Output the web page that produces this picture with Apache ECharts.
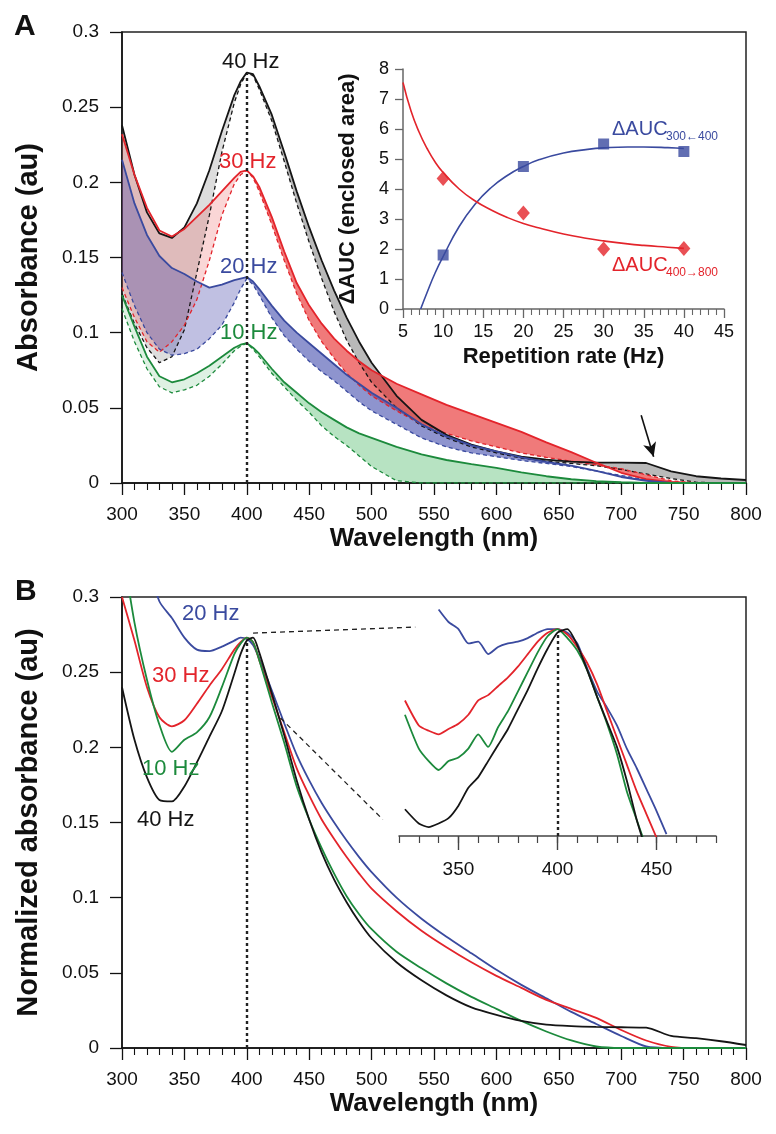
<!DOCTYPE html>
<html><head><meta charset="utf-8">
<script src="https://cdn.jsdelivr.net/npm/echarts/dist/echarts.min.js"></script>
<style>html,body{margin:0;padding:0;background:#fff}#c{width:776px;height:1134px}</style>
</head><body><div id="c"></div>
<script>
// ---------- data ----------
const wavelength = [300,310,320,330,340,350,360,370,380,390,395,400,405,410,420,430,440,450,460,470,480,490,500,520,540,560,580,600,620,640,660,680,700,720,740,760,780,800];
// Panel A: measured (solid) and reference (dashed) spectra
const absA40    = [0.238,0.205,0.180,0.166,0.163,0.170,0.186,0.208,0.234,0.258,0.267,0.273,0.272,0.264,0.245,0.220,0.194,0.170,0.148,0.128,0.110,0.094,0.080,0.058,0.042,0.032,0.0255,0.021,0.0175,0.0155,0.0142,0.0136,0.0136,0.0133,0.0078,0.0045,0.003,0.002];
const absA40ref = [0.126,0.106,0.090,0.080,0.084,0.102,0.140,0.178,0.220,0.253,0.265,0.273,0.271,0.262,0.241,0.214,0.186,0.160,0.136,0.114,0.095,0.080,0.067,0.050,0.038,0.030,0.024,0.020,0.0165,0.0145,0.013,0.0115,0.009,0.006,0.003,0.0005,0,0];
const absA30    = [0.232,0.205,0.183,0.168,0.164,0.169,0.177,0.185,0.194,0.203,0.207,0.208,0.204,0.197,0.177,0.154,0.133,0.118,0.106,0.096,0.088,0.081,0.075,0.066,0.059,0.052,0.046,0.040,0.034,0.027,0.0205,0.0135,0.0068,0.0025,0.0005,0,0,0];
const absA30ref = [0.130,0.110,0.094,0.087,0.094,0.105,0.122,0.148,0.178,0.199,0.205,0.208,0.203,0.194,0.172,0.148,0.126,0.108,0.094,0.083,0.073,0.065,0.058,0.048,0.039,0.033,0.028,0.024,0.020,0.017,0.0145,0.012,0.0095,0.0055,0.0015,0,0,0];
const absA20    = [0.215,0.186,0.165,0.151,0.143,0.139,0.134,0.130,0.132,0.135,0.136,0.137,0.134,0.129,0.118,0.108,0.100,0.093,0.086,0.079,0.072,0.066,0.060,0.050,0.039,0.031,0.025,0.021,0.017,0.014,0.0115,0.008,0.004,0.0015,0,0,0,0];
const absA20ref = [0.140,0.118,0.100,0.089,0.085,0.086,0.089,0.096,0.105,0.120,0.129,0.136,0.132,0.125,0.110,0.098,0.089,0.081,0.074,0.068,0.061,0.054,0.048,0.039,0.030,0.024,0.020,0.0175,0.015,0.013,0.011,0.008,0.005,0.002,0.0005,0,0,0];
const absA10    = [0.125,0.104,0.084,0.071,0.067,0.069,0.073,0.078,0.084,0.090,0.092,0.093,0.090,0.086,0.076,0.067,0.060,0.053,0.047,0.042,0.037,0.033,0.030,0.024,0.019,0.0153,0.0125,0.010,0.007,0.0045,0.0025,0.0012,0.0005,0,0,0,0,0];
const absA10ref = [0.116,0.094,0.076,0.064,0.060,0.062,0.065,0.071,0.079,0.088,0.091,0.093,0.089,0.084,0.073,0.064,0.055,0.047,0.038,0.031,0.025,0.018,0.011,0.0015,0,0,0,0,0,0,0,0,0,0,0,0,0,0];
// Panel A inset: enclosed areas vs repetition rate
const repRate = [10,20,30,40];
const aucLeft  = [1.8,4.75,5.5,5.25];   // ΔAUC 300←400
const aucRight = [4.35,3.2,2.0,2.02];   // ΔAUC 400→800
const fitLeftX  = [7.2,8,9,10,12,14,16,18,20,22,25,28,30,33,35,38,40];
const fitLeftY  = [0,0.55,1.2,1.75,2.75,3.5,4.05,4.45,4.75,4.98,5.2,5.32,5.37,5.4,5.4,5.38,5.35];
const fitRightX = [5,6,7,8,9,10,12,14,16,18,20,22,25,28,30,33,35,38,40];
const fitRightY = [7.55,6.6,5.9,5.35,4.9,4.55,4.0,3.6,3.3,3.05,2.85,2.7,2.5,2.35,2.27,2.17,2.12,2.06,2.02];
// Panel B: normalized spectra
const normB40 = [0.240,0.205,0.180,0.165,0.164,0.174,0.190,0.207,0.224,0.249,0.262,0.271,0.273,0.263,0.236,0.208,0.178,0.152,0.130,0.112,0.097,0.084,0.073,0.057,0.045,0.035,0.027,0.022,0.018,0.0155,0.0145,0.014,0.0138,0.0135,0.008,0.0065,0.0045,0.002];
const normB30 = [0.300,0.271,0.240,0.220,0.214,0.218,0.229,0.241,0.252,0.265,0.270,0.273,0.270,0.258,0.234,0.210,0.186,0.168,0.152,0.139,0.127,0.116,0.106,0.091,0.078,0.067,0.057,0.048,0.040,0.032,0.026,0.020,0.012,0.005,0.0008,0,0,0];
const normB20 = [0.400,0.360,0.325,0.297,0.286,0.273,0.265,0.264,0.267,0.271,0.273,0.272,0.268,0.259,0.238,0.216,0.195,0.178,0.163,0.150,0.138,0.127,0.117,0.100,0.086,0.074,0.063,0.052,0.042,0.033,0.024,0.016,0.008,0.001,0,0,0,0];
const normB10 = [0.335,0.283,0.245,0.215,0.197,0.205,0.210,0.220,0.240,0.262,0.269,0.273,0.270,0.258,0.230,0.203,0.174,0.152,0.133,0.116,0.101,0.089,0.079,0.064,0.053,0.043,0.034,0.026,0.018,0.011,0.005,0.001,0,0,0,0,0,0];
// Panel B inset (zoom 320–480 nm)
const insetWl = [323,330,335,340,345,350,355,360,365,370,375,380,385,390,395,400,405,410,415,420,425,430,435,440,445,450,455];
const inset40 = [0.172,0.164,0.162,0.164,0.167,0.174,0.184,0.190,0.199,0.208,0.217,0.228,0.239,0.251,0.262,0.271,0.273,0.264,0.250,0.235,0.221,0.207,0.188,0.166,0.148,null,null];
const inset10 = [0.225,0.206,0.199,0.194,0.199,0.201,0.206,0.214,0.207,0.218,0.227,0.238,0.249,0.260,0.269,0.273,0.268,0.261,0.250,0.235,0.220,0.203,0.182,0.166,0.150,null,null];
const inset30 = [0.233,0.219,0.216,0.214,0.217,0.220,0.225,0.233,0.236,0.241,0.246,0.252,0.259,0.266,0.271,0.273,0.270,0.263,0.254,0.242,0.227,0.212,0.197,0.182,0.169,0.156,null];
const inset20 = [null,null,null,0.284,0.277,0.273,0.265,0.266,0.259,0.263,0.265,0.266,0.268,0.271,0.273,0.273,0.271,0.265,0.251,0.238,0.229,0.219,0.206,0.195,0.183,0.171,0.158];
// annotation guides
const zoomGuideUpper = [[405,0.276],[535,0.280]];
const zoomGuideLower = [[427,0.2195],[509,0.152]];
const arrowFrom = [716,0.045], arrowTo = [726,0.0175];
const yTicks = [0,0.05,0.1,0.15,0.2,0.25,0.3];

// ---------- chart ----------
const BLACK='#151515', RED='#e3242b', BLUE='#3a4a9f', GREEN='#1c8a3c';
const FONT='Liberation Sans';
const SMB = 0.25;
const pairs = (xs, ys) => xs.map((x,i)=>[x, ys[i]]);

// filled band between measured and reference curve, drawn through the axes' scales
function band(solid, ref, color, fromW, toW) {
  return {
    type:'custom', xAxisIndex:0, yAxisIndex:0, silent:true, z:1, clip:true,
    data:[[fromW, 0]],
    renderItem:(params, api) => {
      if (params.dataIndex !== 0) return;
      const idx = [];
      wavelength.forEach((w,i)=>{ if (w>=fromW && w<=toW) idx.push(i); });
      const top = idx.map(i=>api.coord([wavelength[i], solid[i]]));
      const bot = idx.slice().reverse().map(i=>api.coord([wavelength[i], ref[i]]));
      return {type:'polygon', shape:{points: top.concat(bot)}, style:{fill:color, stroke:null}};
    }
  };
}
function rateSeries(solid, ref, color, fillL, fillR, extra) {
  return [
    band(solid, ref, fillL, 300, 400),
    band(solid, ref, fillR, 400, 800),
    {type:'line', xAxisIndex:0, yAxisIndex:0, symbol:'none', smooth:false, silent:true,
      data:pairs(wavelength, ref), lineStyle:{color:color, width:1.3, type:[4,3]}, z:3},
    Object.assign({type:'line', xAxisIndex:0, yAxisIndex:0, symbol:'none', smooth:false, silent:true,
      data:pairs(wavelength, solid), lineStyle:{color:color, width:1.8}, z:4}, extra||{})
  ];
}

const mainX = (grid) => ({
  type:'value', gridIndex:grid, min:300, max:800, interval:50,
  axisLine:{show:true, lineStyle:{color:'#111', width:1.5}},
  axisTick:{show:true, length:12, lineStyle:{color:'#111', width:1.3}},
  minorTick:{show:true, splitNumber:5, length:7, lineStyle:{color:'#111', width:1.1}},
  axisLabel:{fontSize:19, color:'#111', margin:22, fontFamily:FONT},
  splitLine:{show:false},
  name:'Wavelength (nm)', nameLocation:'middle', nameGap:43,
  nameTextStyle:{fontSize:26, fontWeight:'bold', color:'#111', fontFamily:FONT}
});
const mainY = (grid, name) => ({
  type:'value', gridIndex:grid, min:0, max:0.3, interval:0.05,
  axisLine:{show:true, lineStyle:{color:'#111', width:1.5}},
  axisTick:{show:true, length:12, lineStyle:{color:'#111', width:1.3}},
  axisLabel:{fontSize:19, color:'#111', margin:23, fontFamily:FONT,
    formatter: v => String(yTicks.reduce((a,b)=>Math.abs(b-v)<Math.abs(a-v)?b:a))},
  splitLine:{show:false},
  name:name, nameLocation:'middle', nameGap:79, nameRotate:90,
  nameTextStyle:{fontSize:29, fontWeight:'bold', color:'#111', fontFamily:FONT}
});

const dotted = (y0, y1) => ({silent:true, symbol:'none', label:{show:false},
  lineStyle:{type:[3,3], color:'#222', width:2.4},
  data:[[{coord:[400,y0]},{coord:[400,y1]}]]});

const series = [].concat(
  rateSeries(absA40, absA40ref, BLACK, 'rgba(120,120,120,0.25)', 'rgba(100,100,100,0.45)', {
    markLine:{silent:true, symbol:['none','arrow'], symbolSize:[10,14], label:{show:false},
      lineStyle:{type:'solid', color:'#111', width:1.6},
      data:[[{coord:arrowFrom},{coord:arrowTo}]]}
  }),
  rateSeries(absA30, absA30ref, RED, 'rgba(230,50,50,0.2)', 'rgba(230,40,40,0.62)'),
  rateSeries(absA20, absA20ref, BLUE, 'rgba(60,60,165,0.32)', 'rgba(60,70,170,0.58)'),
  rateSeries(absA10, absA10ref, GREEN, 'rgba(50,170,80,0.16)', 'rgba(50,175,80,0.35)', {
    markLine: dotted(0, 0.272)
  }),
  [
    // Panel A inset
    {type:'line', xAxisIndex:1, yAxisIndex:1, data:pairs(fitLeftX, fitLeftY), smooth:true, symbol:'none', lineStyle:{color:BLUE, width:1.6}, silent:true},
    {type:'line', xAxisIndex:1, yAxisIndex:1, data:pairs(fitRightX, fitRightY), smooth:true, symbol:'none', lineStyle:{color:RED, width:1.6}, silent:true},
    {type:'scatter', xAxisIndex:1, yAxisIndex:1, data:pairs(repRate, aucLeft), symbol:'rect', symbolSize:11, itemStyle:{color:BLUE}, silent:true, z:5},
    {type:'scatter', xAxisIndex:1, yAxisIndex:1, data:pairs(repRate, aucRight), symbol:'diamond', symbolSize:[13,15], itemStyle:{color:RED}, silent:true, z:5},
    // Panel B main
    {type:'line', xAxisIndex:2, yAxisIndex:2, data:pairs(wavelength, normB20), smooth:SMB, symbol:'none', lineStyle:{color:BLUE, width:1.8}, silent:true},
    {type:'line', xAxisIndex:2, yAxisIndex:2, data:pairs(wavelength, normB30), smooth:SMB, symbol:'none', lineStyle:{color:RED, width:1.8}, silent:true},
    {type:'line', xAxisIndex:2, yAxisIndex:2, data:pairs(wavelength, normB10), smooth:SMB, symbol:'none', lineStyle:{color:GREEN, width:1.8}, silent:true},
    {type:'line', xAxisIndex:2, yAxisIndex:2, data:pairs(wavelength, normB40), smooth:SMB, symbol:'none', lineStyle:{color:BLACK, width:1.8}, silent:true,
      markLine: dotted(0, 0.271)},
    {type:'line', xAxisIndex:2, yAxisIndex:2, data:zoomGuideUpper, symbol:'none', lineStyle:{color:'#222', width:1.3, type:[5,4]}, silent:true},
    {type:'line', xAxisIndex:2, yAxisIndex:2, data:zoomGuideLower, symbol:'none', lineStyle:{color:'#222', width:1.3, type:[5,4]}, silent:true},
    // Panel B inset
    {type:'line', xAxisIndex:3, yAxisIndex:3, data:pairs(insetWl, inset20), smooth:0.2, symbol:'none', lineStyle:{color:BLUE, width:1.8}, silent:true},
    {type:'line', xAxisIndex:3, yAxisIndex:3, data:pairs(insetWl, inset30), smooth:0.2, symbol:'none', lineStyle:{color:RED, width:1.8}, silent:true},
    {type:'line', xAxisIndex:3, yAxisIndex:3, data:pairs(insetWl, inset10), smooth:0.2, symbol:'none', lineStyle:{color:GREEN, width:1.8}, silent:true},
    {type:'line', xAxisIndex:3, yAxisIndex:3, data:pairs(insetWl, inset40), smooth:0.2, symbol:'none', lineStyle:{color:BLACK, width:1.8}, silent:true,
      markLine: dotted(0.157, 0.271)}
  ]
);

const txt = (text, left, top, color, size, extra) => Object.assign({
  text:text, left:left, top:top, padding:0, textAlign:'left',
  textStyle:{color:color, fontSize:size, fontWeight:'normal', fontFamily:FONT}
}, extra||{});

const option = {
  animation:false,
  textStyle:{fontFamily:FONT},
  title:[
    txt('A', 14, 12, '#111', 30, {textStyle:{color:'#111', fontSize:30, fontWeight:'bold', fontFamily:FONT}}),
    txt('B', 15, 577, '#111', 30, {textStyle:{color:'#111', fontSize:30, fontWeight:'bold', fontFamily:FONT}}),
    txt('40 Hz', 222, 51, BLACK, 22),
    txt('30 Hz', 219, 151, RED, 22),
    txt('20 Hz', 220, 256, BLUE, 22),
    txt('10 Hz', 220, 322, GREEN, 22),
    txt('ΔAUC', 612, 119, BLUE, 20),
    txt('300←400', 666, 131, BLUE, 12),
    txt('ΔAUC', 612, 255, RED, 20),
    txt('400→800', 666, 267, RED, 12),
    txt('20 Hz', 182, 603, BLUE, 22),
    txt('30 Hz', 152, 665, RED, 22),
    txt('10 Hz', 142, 758, GREEN, 22),
    txt('40 Hz', 137, 809, BLACK, 22)
  ],
  grid:[
    {left:122, top:32, width:624, height:451, show:true, borderColor:'#222', borderWidth:1.5, backgroundColor:'transparent'},
    {left:403, top:69, width:321, height:240},
    {left:122, top:597, width:624, height:451, show:true, borderColor:'#222', borderWidth:1.5, backgroundColor:'transparent'},
    {left:399, top:581, width:317, height:255}
  ],
  xAxis:[
    mainX(0),
    {type:'value', gridIndex:1, min:5, max:45, interval:5,
      axisLine:{lineStyle:{color:'#666', width:1.5}},
      axisTick:{length:9, lineStyle:{color:'#666', width:1.3}},
      minorTick:{show:true, splitNumber:5, length:6, lineStyle:{color:'#666', width:1.1}},
      axisLabel:{fontSize:18, color:'#111', margin:14, fontFamily:FONT},
      splitLine:{show:false},
      name:'Repetition rate (Hz)', nameLocation:'middle', nameGap:37,
      nameTextStyle:{fontSize:22, fontWeight:'bold', color:'#111', fontFamily:FONT}},
    mainX(2),
    {type:'value', gridIndex:3, min:320, max:480, interval:10, position:'bottom',
      axisLine:{lineStyle:{color:'#444', width:1.5}},
      axisTick:{length:7, lineStyle:{color:'#444', width:1.2}},
      axisLabel:{fontSize:19, color:'#111', margin:24, fontFamily:FONT,
        formatter: v => (v===350||v===400||v===450) ? String(v) : ''},
      splitLine:{show:false}},
    {type:'value', gridIndex:3, min:320, max:480, interval:10, position:'bottom', offset:0,
      axisLine:{show:false},
      axisTick:{show:true, length:14, customValues:[350,400,450], lineStyle:{color:'#444', width:1.4}},
      axisLabel:{show:false}, splitLine:{show:false}}
  ],
  yAxis:[
    mainY(0, 'Absorbance (au)'),
    {type:'value', gridIndex:1, min:0, max:8, interval:1,
      axisLine:{show:true, lineStyle:{color:'#666', width:1.5}},
      axisTick:{show:true, length:8, lineStyle:{color:'#666', width:1.3}},
      axisLabel:{fontSize:18, color:'#111', margin:14, fontFamily:FONT},
      splitLine:{show:false},
      name:'ΔAUC (enclosed area)', nameLocation:'middle', nameGap:44, nameRotate:90,
      nameTextStyle:{fontSize:22, fontWeight:'bold', color:'#111', fontFamily:FONT}},
    mainY(2, 'Normalized absorbance (au)'),
    {type:'value', gridIndex:3, min:0.157, max:0.3, show:false}
  ],
  series: series
};

const chart = echarts.init(document.getElementById('c'), null, {renderer:'canvas'});
chart.setOption(option);
</script></body></html>
